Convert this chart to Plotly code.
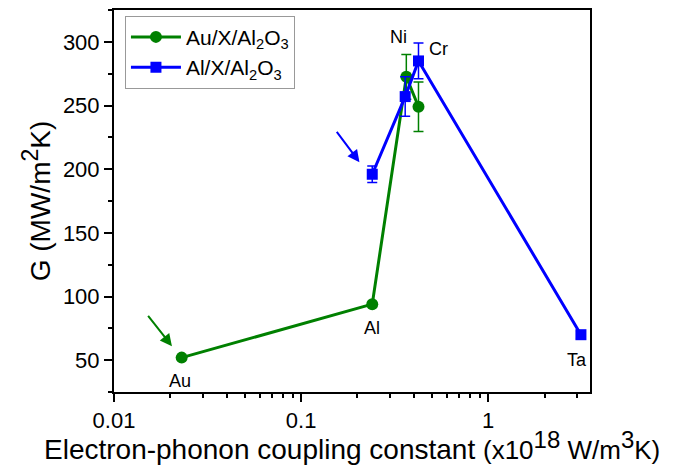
import math
import plotly.graph_objects as go

# Au/X/Al2O3 series
au_x = [0.023, 0.24, 0.365, 0.424]
au_g = [52, 94, 272.5, 249]
au_err = [0, 0, 17.5, 19.5]

# Al/X/Al2O3 series
al_x = [0.24, 0.36, 0.424, 3.13]
al_g = [196, 257, 285, 70]
al_err = [6.5, 15.5, 14, 3]

# point labels (metal X)
lab_text = ["Au", "Al", "Ni", "Cr", "Ta"]
lab_x = [0.0225, 0.24, 0.331, 0.54, 2.98]
lab_y = [34, 75, 304, 294, 50]

# arrows (tail -> head)
arr_green = dict(x0=0.015, y0=86, x1=0.0204, y1=61)
arr_blue = dict(x0=0.153, y0=230.5, x1=0.205, y1=205.5)

GREEN = "#008000"
BLUE = "#0000FF"
FONT = "Arial, Liberation Sans, sans-serif"

fig = go.Figure()
fig.add_trace(go.Scatter(
    x=au_x, y=au_g, mode="lines+markers", name="Au/X/Al<sub>2</sub>O<sub>3</sub>",
    line=dict(color=GREEN, width=3),
    marker=dict(symbol="circle", size=12, color=GREEN),
    error_y=dict(type="data", array=au_err, color=GREEN, thickness=1.5, width=5),
))
fig.add_trace(go.Scatter(
    x=al_x, y=al_g, mode="lines+markers", name="Al/X/Al<sub>2</sub>O<sub>3</sub>",
    line=dict(color=BLUE, width=3),
    marker=dict(symbol="square", size=11, color=BLUE),
    error_y=dict(type="data", array=al_err, color=BLUE, thickness=1.5, width=5),
))

annotations = []
for t, x, y in zip(lab_text, lab_x, lab_y):
    annotations.append(dict(x=math.log10(x), y=y, xref="x", yref="y", text=t,
                            showarrow=False, font=dict(size=18, color="black", family=FONT)))
for a, c in [(arr_green, GREEN), (arr_blue, BLUE)]:
    annotations.append(dict(x=math.log10(a["x1"]), y=a["y1"], ax=math.log10(a["x0"]), ay=a["y0"],
                            xref="x", yref="y", axref="x", ayref="y", text="",
                            showarrow=True, arrowhead=2, arrowsize=1.2, arrowwidth=2,
                            arrowcolor=c, standoff=0, startstandoff=0))

xtitle = ("Electron-phonon coupling constant "
          "<span style='font-size:26px'>(x10<sup><span style='font-size:24px'>18</span></sup>"
          " W/m<sup><span style='font-size:24px'>3</span></sup>K)</span>")
annotations.append(dict(x=0.5, y=-0.14, xref="paper", yref="paper", text=xtitle,
                        showarrow=False, xanchor="center", yanchor="middle",
                        font=dict(size=28, color="black", family=FONT)))
ytitle = "G (MW/m<sup><span style='font-size:23px'>2</span></sup>K)"

minor_x = [0.02, 0.03, 0.04, 0.05, 0.06, 0.07, 0.08, 0.09,
           0.2, 0.3, 0.4, 0.5, 0.6, 0.7, 0.8, 0.9, 2, 3]

fig.update_layout(
    width=686, height=472,
    margin=dict(l=114, r=96, t=8, b=80),
    plot_bgcolor="white", paper_bgcolor="white",
    font=dict(family=FONT, color="black"),
    showlegend=True,
    legend=dict(x=0.023, y=0.985, xanchor="left", yanchor="top",
                bordercolor="#999999", borderwidth=1, bgcolor="white",
                font=dict(size=21), tracegroupgap=0, itemwidth=50),
    annotations=annotations,
    xaxis=dict(
        type="log", range=[-2, 0.544],
        tickvals=[0.01, 0.1, 1], ticktext=["0.01", "0.1", "1"],
        ticks="outside", ticklen=8, tickwidth=2, tickcolor="black",
        showline=True, linewidth=2, linecolor="black", mirror=True,
        showgrid=False, zeroline=False,
        tickfont=dict(size=22),
        minor=dict(tickvals=minor_x, ticks="outside", ticklen=4, tickwidth=1.5, tickcolor="black", showgrid=False),
    ),
    yaxis=dict(
        range=[25, 325],
        tickvals=[50, 100, 150, 200, 250, 300],
        ticks="outside", ticklen=8, tickwidth=2, tickcolor="black",
        showline=True, linewidth=2, linecolor="black", mirror=True,
        showgrid=False, zeroline=False,
        tickfont=dict(size=22),
        minor=dict(dtick=25, tick0=25, ticks="outside", ticklen=4, tickwidth=1.5, tickcolor="black", showgrid=False),
        title=dict(text=ytitle, font=dict(size=28), standoff=4),
    ),
)

fig.write_html("out.html")
